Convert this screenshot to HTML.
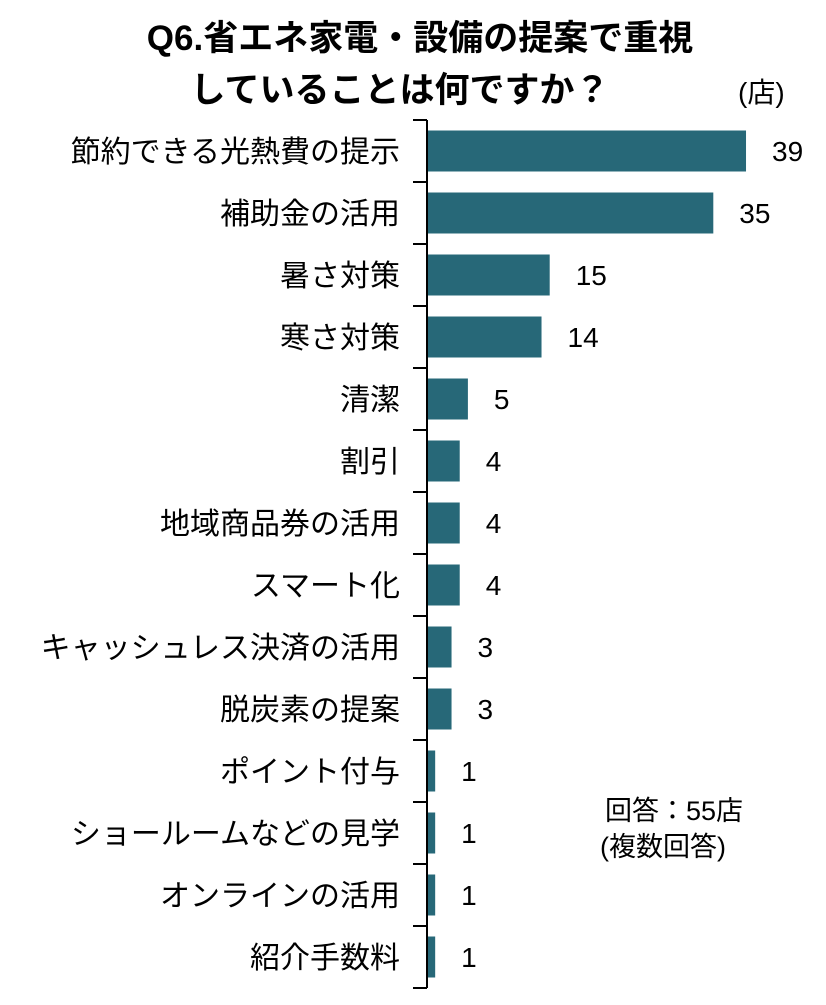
<!DOCTYPE html>
<html><head><meta charset="utf-8"><style>
body{margin:0;background:#fff;width:826px;height:1000px;overflow:hidden;font-family:"Liberation Sans","Noto Sans CJK JP",sans-serif}
</style></head><body>
<svg id="c" width="826" height="1000" font-family="Liberation Sans, Noto Sans CJK JP, sans-serif">
<text x="420" y="50" text-anchor="middle" font-size="35" font-weight="bold">Q6.省エネ家電・設備の提案で重視</text>
<text x="400" y="102" text-anchor="middle" font-size="35" font-weight="bold">していることは何ですか？</text>
<text x="738" y="102" font-size="28">(店)</text>
<text x="605" y="820" font-size="27">回答：55店</text>
<text x="600" y="856" font-size="27">(複数回答)</text>
<g id="g"></g>
</svg>
<script>
const categories=["節約できる光熱費の提示","補助金の活用","暑さ対策","寒さ対策","清潔","割引","地域商品券の活用","スマート化","キャッシュレス決済の活用","脱炭素の提案","ポイント付与","ショールームなどの見学","オンラインの活用","紹介手数料"];
const values=[39,35,15,14,5,4,4,4,3,3,1,1,1,1];
const ns="http://www.w3.org/2000/svg";
const g=document.getElementById('g');
const x0=427, perUnit=8.18, y0=120, step=62, bh=41;
const xs=v=>x0+v*perUnit;
function mk(t,a){const e=document.createElementNS(ns,t);for(const k in a)e.setAttribute(k,a[k]);g.appendChild(e);return e;}
categories.forEach((c,i)=>{
  const cy=y0+step*i+step/2;
  const r=mk('rect',{x:x0,y:cy-bh/2,width:xs(values[i])-x0,height:bh,fill:'#276878'});
  
  
  const l=mk('text',{x:400,y:cy+11,'text-anchor':'end','font-size':30});
  l.textContent=c;
  
  
  const v=mk('text',{x:xs(values[i])+26,y:cy+10,'font-size':28});
  v.textContent=values[i];
  
  
});
for(let i=0;i<=categories.length;i++){
  const y=y0+step*i;
  const t=mk('line',{x1:413,x2:427,y1:y,y2:y,stroke:'#000','stroke-width':2});
  
  
}
const ax=mk('line',{x1:427,x2:427,y1:y0,y2:y0+step*categories.length,stroke:'#000','stroke-width':2});


</script>
</body></html>
